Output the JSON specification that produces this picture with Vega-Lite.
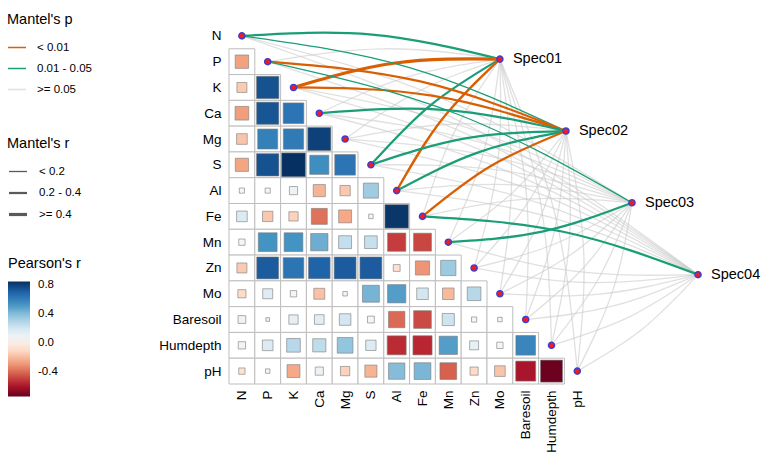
{
  "$schema": "https://vega.github.io/schema/vega-lite/v6.json",
  "width": 516,
  "height": 361,
  "autosize": {"type": "none"},
  "padding": {"left": 229, "top": 23, "right": 24, "bottom": 84},
  "config": {
    "font": "Liberation Sans",
    "view": {"stroke": null},
    "axis": {"labelOverlap": false, "labelFlush": false, "labelBound": false},
    "axisQuantitative": {"labelOverlap": false},
    "legend": {"titleFontSize": 14.5, "titleFontWeight": "normal", "titleColor": "#000", "labelFontSize": 11.5, "labelColor": "#000"}
  },
  "datasets": {
    "cells": [
      {"row":"P","col":"N","y":1,"x":0,"r":-0.27},
      {"row":"K","col":"N","y":2,"x":0,"r":-0.15},{"row":"K","col":"P","y":2,"x":1,"r":0.75},
      {"row":"Ca","col":"N","y":3,"x":0,"r":-0.28},{"row":"Ca","col":"P","y":3,"x":1,"r":0.74},{"row":"Ca","col":"K","y":3,"x":2,"r":0.64},
      {"row":"Mg","col":"N","y":4,"x":0,"r":-0.17},{"row":"Mg","col":"P","y":4,"x":1,"r":0.6},{"row":"Mg","col":"K","y":4,"x":2,"r":0.62},{"row":"Mg","col":"Ca","y":4,"x":3,"r":0.8},
      {"row":"S","col":"N","y":5,"x":0,"r":-0.26},{"row":"S","col":"P","y":5,"x":1,"r":0.75},{"row":"S","col":"K","y":5,"x":2,"r":0.85},{"row":"S","col":"Ca","y":5,"x":3,"r":0.55},{"row":"S","col":"Mg","y":5,"x":4,"r":0.64},
      {"row":"Al","col":"N","y":6,"x":0,"r":0.04},{"row":"Al","col":"P","y":6,"x":1,"r":0.04},{"row":"Al","col":"K","y":6,"x":2,"r":0.1},{"row":"Al","col":"Ca","y":6,"x":3,"r":-0.22},{"row":"Al","col":"Mg","y":6,"x":4,"r":-0.16},{"row":"Al","col":"S","y":6,"x":5,"r":0.34},
      {"row":"Fe","col":"N","y":7,"x":0,"r":0.17},{"row":"Fe","col":"P","y":7,"x":1,"r":-0.16},{"row":"Fe","col":"K","y":7,"x":2,"r":-0.13},{"row":"Fe","col":"Ca","y":7,"x":3,"r":-0.38},{"row":"Fe","col":"Mg","y":7,"x":4,"r":-0.25},{"row":"Fe","col":"S","y":7,"x":5,"r":0.03},{"row":"Fe","col":"Al","y":7,"x":6,"r":0.83},
      {"row":"Mn","col":"N","y":8,"x":0,"r":0.06},{"row":"Mn","col":"P","y":8,"x":1,"r":0.53},{"row":"Mn","col":"K","y":8,"x":2,"r":0.53},{"row":"Mn","col":"Ca","y":8,"x":3,"r":0.45},{"row":"Mn","col":"Mg","y":8,"x":4,"r":0.25},{"row":"Mn","col":"S","y":8,"x":5,"r":0.24},{"row":"Mn","col":"Al","y":8,"x":6,"r":-0.5},{"row":"Mn","col":"Fe","y":8,"x":7,"r":-0.48},
      {"row":"Zn","col":"N","y":9,"x":0,"r":-0.15},{"row":"Zn","col":"P","y":9,"x":1,"r":0.72},{"row":"Zn","col":"K","y":9,"x":2,"r":0.64},{"row":"Zn","col":"Ca","y":9,"x":3,"r":0.7},{"row":"Zn","col":"Mg","y":9,"x":4,"r":0.72},{"row":"Zn","col":"S","y":9,"x":5,"r":0.72},{"row":"Zn","col":"Al","y":9,"x":6,"r":-0.07},{"row":"Zn","col":"Fe","y":9,"x":7,"r":-0.3},{"row":"Zn","col":"Mn","y":9,"x":8,"r":0.35},
      {"row":"Mo","col":"N","y":10,"x":0,"r":-0.1},{"row":"Mo","col":"P","y":10,"x":1,"r":0.15},{"row":"Mo","col":"K","y":10,"x":2,"r":0.06},{"row":"Mo","col":"Ca","y":10,"x":3,"r":-0.18},{"row":"Mo","col":"Mg","y":10,"x":4,"r":0.03},{"row":"Mo","col":"S","y":10,"x":5,"r":0.43},{"row":"Mo","col":"Al","y":10,"x":6,"r":0.5},{"row":"Mo","col":"Fe","y":10,"x":7,"r":0.2},{"row":"Mo","col":"Mn","y":10,"x":8,"r":-0.2},{"row":"Mo","col":"Zn","y":10,"x":9,"r":0.28},
      {"row":"Baresoil","col":"N","y":11,"x":0,"r":0.09},{"row":"Baresoil","col":"P","y":11,"x":1,"r":0.02},{"row":"Baresoil","col":"K","y":11,"x":2,"r":0.13},{"row":"Baresoil","col":"Ca","y":11,"x":3,"r":0.14},{"row":"Baresoil","col":"Mg","y":11,"x":4,"r":0.2},{"row":"Baresoil","col":"S","y":11,"x":5,"r":0.07},{"row":"Baresoil","col":"Al","y":11,"x":6,"r":-0.4},{"row":"Baresoil","col":"Fe","y":11,"x":7,"r":-0.47},{"row":"Baresoil","col":"Mn","y":11,"x":8,"r":0.22},{"row":"Baresoil","col":"Zn","y":11,"x":9,"r":0.04},{"row":"Baresoil","col":"Mo","y":11,"x":10,"r":0.03},
      {"row":"Humdepth","col":"N","y":12,"x":0,"r":0.08},{"row":"Humdepth","col":"P","y":12,"x":1,"r":0.17},{"row":"Humdepth","col":"K","y":12,"x":2,"r":0.28},{"row":"Humdepth","col":"Ca","y":12,"x":3,"r":0.26},{"row":"Humdepth","col":"Mg","y":12,"x":4,"r":0.37},{"row":"Humdepth","col":"S","y":12,"x":5,"r":0.16},{"row":"Humdepth","col":"Al","y":12,"x":6,"r":-0.54},{"row":"Humdepth","col":"Fe","y":12,"x":7,"r":-0.55},{"row":"Humdepth","col":"Mn","y":12,"x":8,"r":0.5},{"row":"Humdepth","col":"Zn","y":12,"x":9,"r":0.12},{"row":"Humdepth","col":"Mo","y":12,"x":10,"r":0.06},{"row":"Humdepth","col":"Baresoil","y":12,"x":11,"r":0.58},
      {"row":"pH","col":"N","y":13,"x":0,"r":-0.06},{"row":"pH","col":"P","y":13,"x":1,"r":0.03},{"row":"pH","col":"K","y":13,"x":2,"r":-0.25},{"row":"pH","col":"Ca","y":13,"x":3,"r":0.1},{"row":"pH","col":"Mg","y":13,"x":4,"r":-0.13},{"row":"pH","col":"S","y":13,"x":5,"r":-0.22},{"row":"pH","col":"Al","y":13,"x":6,"r":0.4},{"row":"pH","col":"Fe","y":13,"x":7,"r":0.42},{"row":"pH","col":"Mn","y":13,"x":8,"r":-0.42},{"row":"pH","col":"Zn","y":13,"x":9,"r":-0.1},{"row":"pH","col":"Mo","y":13,"x":10,"r":-0.17},{"row":"pH","col":"Baresoil","y":13,"x":11,"r":-0.6},{"row":"pH","col":"Humdepth","y":13,"x":12,"r":-0.73}
    ],
    "links": [
      {"spec":"Spec01","env":"N","p":"0.01 - 0.05","r":"0.2 - 0.4","x":[0,5.045,10],"y":[0,-0.05,0.9],"t":[0,1,2]},
      {"spec":"Spec01","env":"P","p":">= 0.05","r":"< 0.2","x":[1,5.495,10],"y":[1,0.5,0.9],"t":[0,1,2]},
      {"spec":"Spec01","env":"K","p":"< 0.01","r":">= 0.4","x":[2,5.945,10],"y":[2,1.05,0.9],"t":[0,1,2]},
      {"spec":"Spec01","env":"Ca","p":">= 0.05","r":"< 0.2","x":[3,6.395,10],"y":[3,1.6,0.9],"t":[0,1,2]},
      {"spec":"Spec01","env":"Mg","p":">= 0.05","r":"< 0.2","x":[4,6.845,10],"y":[4,2.15,0.9],"t":[0,1,2]},
      {"spec":"Spec01","env":"S","p":"0.01 - 0.05","r":"0.2 - 0.4","x":[5,7.295,10],"y":[5,2.7,0.9],"t":[0,1,2]},
      {"spec":"Spec01","env":"Al","p":"< 0.01","r":"0.2 - 0.4","x":[6,7.745,10],"y":[6,3.25,0.9],"t":[0,1,2]},
      {"spec":"Spec01","env":"Fe","p":">= 0.05","r":"< 0.2","x":[7,8.195,10],"y":[7,3.8,0.9],"t":[0,1,2]},
      {"spec":"Spec01","env":"Mn","p":">= 0.05","r":"< 0.2","x":[8,9.355,10],"y":[8,4.55,0.9],"t":[0,1,2]},
      {"spec":"Spec01","env":"Zn","p":">= 0.05","r":"< 0.2","x":[9,9.905,10],"y":[9,5.0,0.9],"t":[0,1,2]},
      {"spec":"Spec01","env":"Mo","p":">= 0.05","r":"< 0.2","x":[10,10.455,10],"y":[10,5.45,0.9],"t":[0,1,2]},
      {"spec":"Spec01","env":"Baresoil","p":">= 0.05","r":"< 0.2","x":[11,11.005,10],"y":[11,5.9,0.9],"t":[0,1,2]},
      {"spec":"Spec01","env":"Humdepth","p":">= 0.05","r":"< 0.2","x":[12,11.555,10],"y":[12,6.35,0.9],"t":[0,1,2]},
      {"spec":"Spec01","env":"pH","p":">= 0.05","r":"< 0.2","x":[13,12.105,10],"y":[13,6.8,0.9],"t":[0,1,2]},
      {"spec":"Spec02","env":"N","p":"0.01 - 0.05","r":"< 0.2","x":[0,6.465,12.56],"y":[0,1.217,3.69],"t":[0,1,2]},
      {"spec":"Spec02","env":"P","p":"< 0.01","r":"0.2 - 0.4","x":[1,6.915,12.56],"y":[1,1.767,3.69],"t":[0,1,2]},
      {"spec":"Spec02","env":"K","p":"< 0.01","r":"0.2 - 0.4","x":[2,7.365,12.56],"y":[2,2.317,3.69],"t":[0,1,2]},
      {"spec":"Spec02","env":"Ca","p":"0.01 - 0.05","r":"0.2 - 0.4","x":[3,7.815,12.56],"y":[3,2.867,3.69],"t":[0,1,2]},
      {"spec":"Spec02","env":"Mg","p":">= 0.05","r":"< 0.2","x":[4,8.265,12.56],"y":[4,3.417,3.69],"t":[0,1,2]},
      {"spec":"Spec02","env":"S","p":"0.01 - 0.05","r":"0.2 - 0.4","x":[5,8.715,12.56],"y":[5,3.967,3.69],"t":[0,1,2]},
      {"spec":"Spec02","env":"Al","p":"0.01 - 0.05","r":"0.2 - 0.4","x":[6,9.165,12.56],"y":[6,4.517,3.69],"t":[0,1,2]},
      {"spec":"Spec02","env":"Fe","p":"< 0.01","r":"0.2 - 0.4","x":[7,9.615,12.56],"y":[7,5.067,3.69],"t":[0,1,2]},
      {"spec":"Spec02","env":"Mn","p":">= 0.05","r":"< 0.2","x":[8,10.496,12.56],"y":[8,6.073,3.69],"t":[0,1,2]},
      {"spec":"Spec02","env":"Zn","p":">= 0.05","r":"< 0.2","x":[9,11.046,12.56],"y":[9,6.523,3.69],"t":[0,1,2]},
      {"spec":"Spec02","env":"Mo","p":">= 0.05","r":"< 0.2","x":[10,11.596,12.56],"y":[10,6.973,3.69],"t":[0,1,2]},
      {"spec":"Spec02","env":"Baresoil","p":">= 0.05","r":"< 0.2","x":[11,12.146,12.56],"y":[11,7.423,3.69],"t":[0,1,2]},
      {"spec":"Spec02","env":"Humdepth","p":">= 0.05","r":"< 0.2","x":[12,12.696,12.56],"y":[12,7.873,3.69],"t":[0,1,2]},
      {"spec":"Spec02","env":"pH","p":">= 0.05","r":"< 0.2","x":[13,13.246,12.56],"y":[13,8.323,3.69],"t":[0,1,2]},
      {"spec":"Spec03","env":"N","p":">= 0.05","r":"< 0.2","x":[0,7.884,15.12],"y":[0,2.479,6.47],"t":[0,1,2]},
      {"spec":"Spec03","env":"P","p":"0.01 - 0.05","r":"< 0.2","x":[1,8.334,15.12],"y":[1,3.029,6.47],"t":[0,1,2]},
      {"spec":"Spec03","env":"K","p":">= 0.05","r":"< 0.2","x":[2,8.784,15.12],"y":[2,3.579,6.47],"t":[0,1,2]},
      {"spec":"Spec03","env":"Ca","p":">= 0.05","r":"< 0.2","x":[3,9.234,15.12],"y":[3,4.129,6.47],"t":[0,1,2]},
      {"spec":"Spec03","env":"Mg","p":">= 0.05","r":"< 0.2","x":[4,9.684,15.12],"y":[4,4.679,6.47],"t":[0,1,2]},
      {"spec":"Spec03","env":"S","p":">= 0.05","r":"< 0.2","x":[5,10.134,15.12],"y":[5,5.229,6.47],"t":[0,1,2]},
      {"spec":"Spec03","env":"Al","p":">= 0.05","r":"< 0.2","x":[6,10.584,15.12],"y":[6,5.779,6.47],"t":[0,1,2]},
      {"spec":"Spec03","env":"Fe","p":">= 0.05","r":"< 0.2","x":[7,11.034,15.12],"y":[7,6.329,6.47],"t":[0,1,2]},
      {"spec":"Spec03","env":"Mn","p":"0.01 - 0.05","r":"0.2 - 0.4","x":[8,11.637,15.12],"y":[8,7.591,6.47],"t":[0,1,2]},
      {"spec":"Spec03","env":"Zn","p":">= 0.05","r":"< 0.2","x":[9,12.187,15.12],"y":[9,8.041,6.47],"t":[0,1,2]},
      {"spec":"Spec03","env":"Mo","p":">= 0.05","r":"< 0.2","x":[10,12.737,15.12],"y":[10,8.491,6.47],"t":[0,1,2]},
      {"spec":"Spec03","env":"Baresoil","p":">= 0.05","r":"< 0.2","x":[11,13.287,15.12],"y":[11,8.941,6.47],"t":[0,1,2]},
      {"spec":"Spec03","env":"Humdepth","p":">= 0.05","r":"< 0.2","x":[12,13.837,15.12],"y":[12,9.391,6.47],"t":[0,1,2]},
      {"spec":"Spec03","env":"pH","p":">= 0.05","r":"< 0.2","x":[13,14.387,15.12],"y":[13,9.841,6.47],"t":[0,1,2]},
      {"spec":"Spec04","env":"N","p":">= 0.05","r":"< 0.2","x":[0,9.303,17.68],"y":[0,3.746,9.26],"t":[0,1,2]},
      {"spec":"Spec04","env":"P","p":">= 0.05","r":"< 0.2","x":[1,9.753,17.68],"y":[1,4.296,9.26],"t":[0,1,2]},
      {"spec":"Spec04","env":"K","p":">= 0.05","r":"< 0.2","x":[2,10.203,17.68],"y":[2,4.846,9.26],"t":[0,1,2]},
      {"spec":"Spec04","env":"Ca","p":">= 0.05","r":"< 0.2","x":[3,10.653,17.68],"y":[3,5.396,9.26],"t":[0,1,2]},
      {"spec":"Spec04","env":"Mg","p":">= 0.05","r":"< 0.2","x":[4,11.103,17.68],"y":[4,5.946,9.26],"t":[0,1,2]},
      {"spec":"Spec04","env":"S","p":">= 0.05","r":"< 0.2","x":[5,11.553,17.68],"y":[5,6.496,9.26],"t":[0,1,2]},
      {"spec":"Spec04","env":"Al","p":">= 0.05","r":"< 0.2","x":[6,12.003,17.68],"y":[6,7.046,9.26],"t":[0,1,2]},
      {"spec":"Spec04","env":"Fe","p":"0.01 - 0.05","r":"0.2 - 0.4","x":[7,12.453,17.68],"y":[7,7.596,9.26],"t":[0,1,2]},
      {"spec":"Spec04","env":"Mn","p":">= 0.05","r":"< 0.2","x":[8,12.777,17.68],"y":[8,9.114,9.26],"t":[0,1,2]},
      {"spec":"Spec04","env":"Zn","p":">= 0.05","r":"< 0.2","x":[9,13.327,17.68],"y":[9,9.564,9.26],"t":[0,1,2]},
      {"spec":"Spec04","env":"Mo","p":">= 0.05","r":"< 0.2","x":[10,13.877,17.68],"y":[10,10.014,9.26],"t":[0,1,2]},
      {"spec":"Spec04","env":"Baresoil","p":">= 0.05","r":"< 0.2","x":[11,14.427,17.68],"y":[11,10.464,9.26],"t":[0,1,2]},
      {"spec":"Spec04","env":"Humdepth","p":">= 0.05","r":"< 0.2","x":[12,14.977,17.68],"y":[12,10.914,9.26],"t":[0,1,2]},
      {"spec":"Spec04","env":"pH","p":">= 0.05","r":"< 0.2","x":[13,15.527,17.68],"y":[13,11.364,9.26],"t":[0,1,2]}
    ],
    "nodes": [
      {"name":"N","kind":"env","x":0,"y":0},{"name":"P","kind":"env","x":1,"y":1},{"name":"K","kind":"env","x":2,"y":2},{"name":"Ca","kind":"env","x":3,"y":3},
      {"name":"Mg","kind":"env","x":4,"y":4},{"name":"S","kind":"env","x":5,"y":5},{"name":"Al","kind":"env","x":6,"y":6},{"name":"Fe","kind":"env","x":7,"y":7},
      {"name":"Mn","kind":"env","x":8,"y":8},{"name":"Zn","kind":"env","x":9,"y":9},{"name":"Mo","kind":"env","x":10,"y":10},{"name":"Baresoil","kind":"env","x":11,"y":11},
      {"name":"Humdepth","kind":"env","x":12,"y":12},{"name":"pH","kind":"env","x":13,"y":13},
      {"name":"Spec01","kind":"spec","x":10,"y":0.9},{"name":"Spec02","kind":"spec","x":12.56,"y":3.69},
      {"name":"Spec03","kind":"spec","x":15.12,"y":6.47},{"name":"Spec04","kind":"spec","x":17.68,"y":9.26}
    ]
  },
  "encoding": {
    "x": {"field": "x", "type": "quantitative", "scale": {"domain": [-0.5, 19.5], "nice": false, "zero": false},
      "axis": {"values": [0,1,2,3,4,5,6,7,8,9,10,11,12,13], "labelExpr": "['N','P','K','Ca','Mg','S','Al','Fe','Mn','Zn','Mo','Baresoil','Humdepth','pH'][round(datum.value)]",
        "labelAngle": -90, "labelAlign": "right", "labelBaseline": "middle", "domain": false, "ticks": false, "grid": false, "title": null,
        "labelFontSize": 13.5, "labelColor": "#000", "labelPadding": 6, "labelFlush": false, "labelOverlap": false, "labelBound": false, "labelSeparation": 0}},
    "y": {"field": "y", "type": "quantitative", "scale": {"domain": [-0.5, 13.5], "nice": false, "zero": false, "reverse": true},
      "axis": {"values": [0,1,2,3,4,5,6,7,8,9,10,11,12,13], "labelExpr": "['N','P','K','Ca','Mg','S','Al','Fe','Mn','Zn','Mo','Baresoil','Humdepth','pH'][round(datum.value)]",
        "domain": false, "ticks": false, "grid": false, "title": null, "labelFontSize": 13.5, "labelColor": "#000", "labelPadding": 8,
        "labelFlush": false, "labelOverlap": false, "labelBound": false, "labelSeparation": 0}}
  },
  "layer": [
    {
      "data": {"name": "cells"},
      "mark": {"type": "square", "size": 666, "fill": "#ffffff", "stroke": "#bdbdbd", "strokeWidth": 1, "opacity": 1}
    },
    {
      "data": {"name": "cells"},
      "mark": {"type": "square", "stroke": "#7a7a7a", "strokeWidth": 0.6, "opacity": 1},
      "encoding": {
        "size": {"field": "r", "type": "quantitative", "scale": {"type": "linear", "domain": [-1, 0, 1], "range": [666, 0, 666], "zero": false}, "legend": null},
        "fill": {"field": "r", "type": "quantitative",
          "scale": {"type": "linear", "domain": [-0.74, -0.581, -0.422, -0.263, -0.104, 0.055, 0.214, 0.373, 0.532, 0.691, 0.85],
            "range": ["#67001f", "#b2182b", "#d6604d", "#f4a582", "#fddbc7", "#f7f7f7", "#d1e5f0", "#92c5de", "#4393c3", "#2166ac", "#053061"],
            "interpolate": "rgb", "nice": false, "zero": false},
          "legend": {"title": "Pearson's r", "orient": "none", "legendX": -221, "legendY": 234, "direction": "vertical", "gradientLength": 115, "gradientThickness": 22,
            "values": [-0.4, 0, 0.4, 0.8], "labelExpr": "replace(format(datum.value, '.1f'), '\u2212', '-')", "titlePadding": 10, "labelOffset": 8, "gradientStrokeWidth": 0}}
      }
    },
    {
      "data": {"name": "links"},
      "transform": [{"filter": "datum.p == '>= 0.05'"}, {"flatten": ["x", "y", "t"]}],
      "mark": {"type": "line", "interpolate": "natural"},
      "encoding": {
        "order": {"field": "t", "type": "quantitative"},
        "detail": [{"field": "spec"}, {"field": "env"}],
        "color": {"field": "p", "type": "nominal", "scale": {"domain": ["< 0.01", "0.01 - 0.05", ">= 0.05"], "range": ["#D95F02", "#1B9E77", "rgba(204,204,204,0.6)"]},
          "legend": {"title": "Mantel's p", "orient": "none", "legendX": -222, "legendY": -10, "symbolType": "stroke", "symbolSize": 324, "symbolStrokeWidth": 1.5, "rowPadding": 5, "titlePadding": 10, "labelOffset": 10}},
        "strokeWidth": {"field": "r", "type": "ordinal", "scale": {"domain": ["< 0.2", "0.2 - 0.4", ">= 0.4"], "range": [1.3, 3.2, 6.5]},
          "legend": {"title": "Mantel's r", "orient": "none", "legendX": -222, "legendY": 114, "symbolType": "stroke", "symbolSize": 324, "symbolStrokeColor": "#595959", "rowPadding": 5, "titlePadding": 10, "labelOffset": 10}}
      }
    },
    {
      "data": {"name": "links"},
      "transform": [{"filter": "datum.p != '>= 0.05'"}, {"flatten": ["x", "y", "t"]}],
      "mark": {"type": "line", "interpolate": "natural"},
      "encoding": {
        "order": {"field": "t", "type": "quantitative"},
        "detail": [{"field": "spec"}, {"field": "env"}],
        "color": {"field": "p", "type": "nominal"},
        "strokeWidth": {"field": "r", "type": "ordinal"}
      }
    },
    {
      "data": {"name": "nodes"},
      "mark": {"type": "circle", "size": 38, "fill": "#ee1c25", "stroke": "#3d3dd0", "strokeWidth": 1.4, "opacity": 1}
    },
    {
      "data": {"name": "nodes"},
      "transform": [{"filter": "datum.kind == 'spec'"}],
      "mark": {"type": "text", "align": "left", "baseline": "middle", "dx": 13, "fontSize": 14.5, "color": "#000"},
      "encoding": {
        "text": {"field": "name"}
      }
    }
  ]
}
